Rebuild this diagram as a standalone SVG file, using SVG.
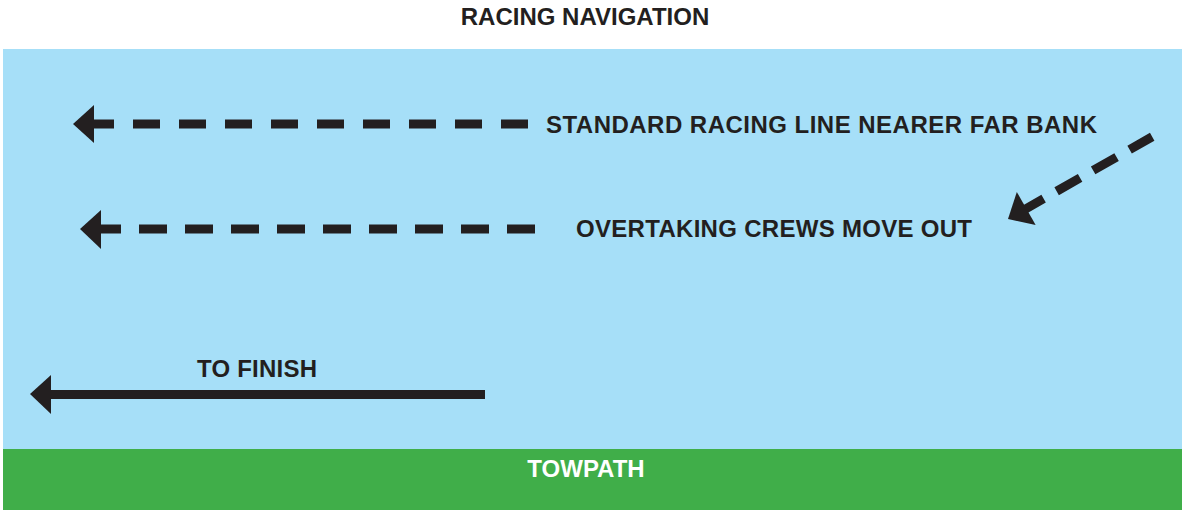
<svg xmlns="http://www.w3.org/2000/svg" width="1182" height="510" viewBox="0 0 1182 510">
<style>
.t{font-family:"Liberation Sans",Arial,sans-serif;font-weight:bold;font-size:24px;fill:#231f20}
.w{fill:#ffffff}
.ink{fill:#231f20}
.dash{stroke:#231f20;stroke-width:9;fill:none}
</style>
<rect x="0" y="0" width="1182" height="510" fill="#ffffff"/>
<g id="river"><rect x="3" y="49" width="1179" height="400" fill="#a6dff8"/></g>
<g id="towpath"><rect x="3" y="449" width="1179" height="61" fill="#40ae49"/>
<text class="t w" x="586" y="477" text-anchor="middle">TOWPATH</text></g>
<g id="title"><text class="t" x="585" y="25" text-anchor="middle">RACING NAVIGATION</text></g>
<g id="connectors">
<g id="standard-line">
<polygon class="ink" points="73,124 94,105 94,143"/>
<line class="dash" x1="93" y1="124" x2="529" y2="124" stroke-dasharray="21 19 27 19 27 19 27 19 27 19 27 19 27 19 27 19 27 19 27 19 27"/>
</g>
<g id="overtake-line">
<polygon class="ink" points="80,229 101,210 101,249"/>
<line class="dash" x1="100" y1="229" x2="535" y2="229" stroke-dasharray="21 18 28 18 28 18 28 18 28 18 28 18 28 18 28 18 28 18 28 18 28"/>
</g>
<g id="diagonal" transform="translate(1008,219) rotate(-29.7)">
<polygon class="ink" points="0,0 21,-19 21,19"/>
<line class="dash" x1="20" y1="0" x2="166" y2="0" stroke-dasharray="21 15 27 15 27 15 27"/>
</g>
<g id="finish-arrow">
<polygon class="ink" points="30,394 51,375 51,414"/>
<line class="dash" x1="50" y1="394.5" x2="485" y2="394.5" stroke-width="9"/>
</g>
</g>
<g id="label-standard"><text class="t" x="546" y="133" textLength="551" lengthAdjust="spacing">STANDARD RACING LINE NEARER FAR BANK</text></g>
<g id="label-overtake"><text class="t" x="576" y="237" textLength="396" lengthAdjust="spacing">OVERTAKING CREWS MOVE OUT</text></g>
<g id="label-finish"><text class="t" x="197" y="377" textLength="120" lengthAdjust="spacing">TO FINISH</text></g>
</svg>
